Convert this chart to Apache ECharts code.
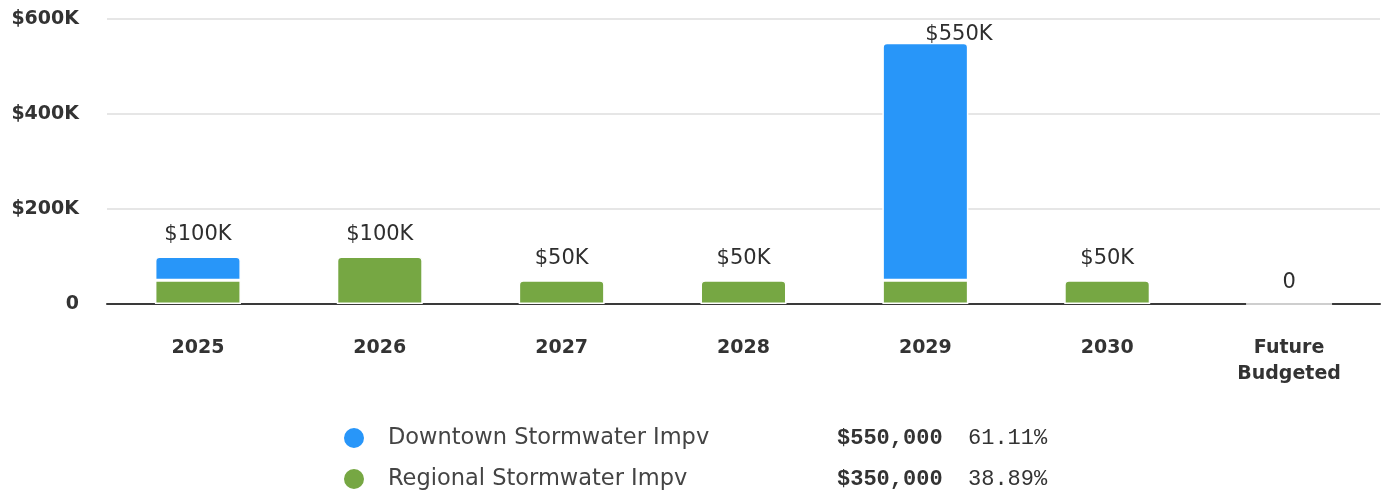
<!DOCTYPE html>
<html>
<head>
<meta charset="utf-8">
<script src="https://cdn.jsdelivr.net/npm/echarts@6/dist/echarts.min.js"></script>
<style>
  html, body { margin: 0; padding: 0; background: #fff; }
  #chart { width: 1385px; height: 493px; }
</style>
</head>
<body>
<div id="chart"></div>
<script>
// Capital budget by year, stacked by project
const categories = ['2025', '2026', '2027', '2028', '2029', '2030', 'Future\nBudgeted'];
const downtownName = 'Downtown Stormwater Impv';
const regionalName = 'Regional Stormwater Impv';
const downtownValues = [50000, 0, 0, 0, 500000, 0, 0];
const regionalValues = [50000, 100000, 50000, 50000, 50000, 50000, 0];
const yTicks = [0, 200000, 400000, 600000];

const BLUE = '#2896f9';
const GREEN = '#76a743';
const FONT = '"DejaVu Sans", "Open Sans", sans-serif';
const MONO = '"Liberation Mono", "DejaVu Sans Mono", monospace';

const totals = categories.map((_, i) => downtownValues[i] + regionalValues[i]);
const downtownTotal = downtownValues.reduce((a, b) => a + b, 0);
const regionalTotal = regionalValues.reduce((a, b) => a + b, 0);
const grand = downtownTotal + regionalTotal;

const shortMoney = v => v === 0 ? '0' : '$' + Math.round(v / 1000) + 'K';
const longMoney = v => '$' + v.toLocaleString('en-US');
const pct = v => (v / grand * 100).toFixed(2) + '%';

const legendInfo = {
  [downtownName]: { total: downtownTotal },
  [regionalName]: { total: regionalTotal }
};

const GRID_TOP = 19;

const chart = echarts.init(document.getElementById('chart'), null, { renderer: 'canvas' });
chart.setOption({
  animation: false,
  backgroundColor: '#fff',
  grid: { left: 107, right: 5, top: GRID_TOP, bottom: 189, containLabel: false },
  xAxis: {
    type: 'category',
    data: categories,
    axisLine: { show: true, lineStyle: { color: '#3a3a3a', width: 2 } },
    axisTick: { show: false },
    axisLabel: {
      margin: 31,
      color: '#333',
      fontFamily: FONT,
      fontWeight: 'bold',
      fontSize: 19,
      lineHeight: 26
    }
  },
  yAxis: {
    type: 'value',
    min: yTicks[0],
    max: yTicks[yTicks.length - 1],
    interval: yTicks[1] - yTicks[0],
    axisLine: { show: false },
    axisTick: { show: false },
    splitLine: { lineStyle: { color: '#e6e6e6', width: 2 } },
    axisLabel: {
      margin: 28,
      color: '#333',
      fontFamily: FONT,
      fontWeight: 'bold',
      fontSize: 19,
      formatter: v => shortMoney(v)
    }
  },
  legend: {
    orient: 'vertical',
    left: 342,
    top: 426,
    padding: 0,
    height: 66,
    itemWidth: 22,
    itemHeight: 22,
    itemGap: 17,
    icon: 'circle',
    data: [downtownName, regionalName],
    formatter: name => {
      const t = legendInfo[name].total;
      return `{n|${name}}{v|${longMoney(t)}}{p|${pct(t)}}`;
    },
    textStyle: {
      rich: {
        n: { fontFamily: FONT, fontSize: 22.5, lineHeight: 22, color: '#444', width: 449, padding: [0, 0, 0, 18] },
        v: { fontFamily: MONO, fontWeight: 'bold', fontSize: 22, lineHeight: 22, color: '#333', width: 131 },
        p: { fontFamily: MONO, fontSize: 22, lineHeight: 22, color: '#333' }
      }
    }
  },
  series: [
    {
      name: regionalName,
      type: 'bar',
      stack: 'budget',
      barWidth: 86,
      itemStyle: { color: GREEN, borderColor: '#fff', borderWidth: 1.5 },
      data: regionalValues.map((v, i) => ({
        value: v,
        itemStyle: { borderRadius: downtownValues[i] === 0 ? [4, 4, 0, 0] : 0 }
      }))
    },
    {
      name: downtownName,
      type: 'bar',
      stack: 'budget',
      barWidth: 86,
      itemStyle: { color: BLUE, borderColor: '#fff', borderWidth: 1.5, borderRadius: [4, 4, 0, 0] },
      data: downtownValues.map(v => (v === 0 ? '-' : v))
    },
    {
      // zero-height cap carrying the stack total label
      name: 'total',
      type: 'bar',
      stack: 'budget',
      barWidth: 86,
      silent: true,
      itemStyle: { color: 'rgba(0,0,0,0)', borderWidth: 0 },
      data: totals.map(() => 0),
      label: {
        show: true,
        position: 'top',
        distance: 11,
        color: '#2e2e2e',
        fontFamily: FONT,
        fontSize: 21,
        formatter: p => shortMoney(totals[p.dataIndex])
      },
      labelLayout: p => {
        if (p.labelRect.y < GRID_TOP) {
          return { y: GRID_TOP + p.labelRect.height / 2 + 5, verticalAlign: 'middle' };
        }
        return {};
      }
    }
  ]
});
</script>
</body>
</html>
